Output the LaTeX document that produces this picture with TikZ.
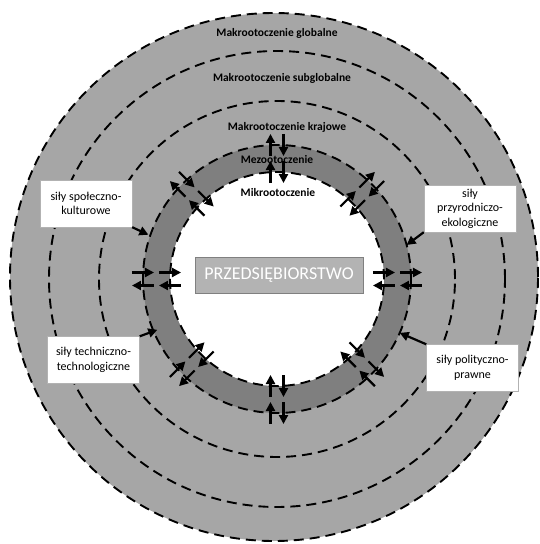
\documentclass[tikz,border=0pt]{standalone}
\usepackage{fontspec}
\setmainfont{Carlito}
\usetikzlibrary{arrows.meta}
\definecolor{szary}{RGB}{166,166,166}
\definecolor{ciemny}{RGB}{127,127,127}

\begin{document}
\begin{tikzpicture}[x=1pt, y=1pt,
        okrag/.style={dash pattern=on 10pt off 6pt, line width=1.9pt},
        strz/.style={line width=2.2pt, -{Triangle[length=9pt, width=9pt]}},
        sila/.style={draw=gray!60, fill=white, align=center, minimum width=92pt, minimum height=47pt, inner sep=2pt, font=\fontsize{12}{14.5}\selectfont},
        poziom/.style={font=\fontsize{11.5}{14}\selectfont\bfseries}]
        \useasboundingbox (-277, -265) rectangle (262, 279);
        \draw [okrag, fill=szary] (-3, 2) circle (264);
        \draw [okrag] (0, 0) circle (228) (0, 0) circle (178);
        \draw [okrag, fill=ciemny] (0, 0) circle (134);
        \draw [okrag, fill=white] (0, 0) circle (107);
        \foreach \a in {0, 45, ..., 315}
            \foreach \ri/\ro in {96/118, 123/145} {
                \draw [strz, rotate=\a] (\ri, 6.5)--(\ro, 6.5);
                \draw [strz, rotate=\a] (\ro, -6.5)--(\ri, -6.5);
            }
        \node [poziom] (glob) at (0, 246) {Makrootoczenie globalne};
        \node [poziom] (subglob) at (5, 201) {Makrootoczenie subglobalne};
        \node [poziom] (kraj) at (10, 152) {Makrootoczenie krajowe};
        \node [poziom] (mezo) at (0, 119) {Mezootoczenie};
        \node [poziom] (mikro) at (1, 86) {Mikrootoczenie};
        \node [draw=gray, fill=szary!85, text=white, minimum width=168pt, minimum height=36pt, font=\fontsize{18}{20}\selectfont] (firma) at (2, 4) {PRZEDSIĘBIORSTWO};
        \node [sila] (spol) at (-191, 75.5) {siły społeczno-\\kulturowe};
        \node [sila] (przyr) at (193, 70.5) {siły\\przyrodniczo-\\ekologiczne};
        \node [sila] (tech) at (-183.5, -81) {siły techniczno-\\technologiczne};
        \node [sila] (polit) at (195.5, -89) {siły polityczno-\\prawne};
        \coordinate (kSpol) at (161:136);
        \coordinate (kPrzyr) at (14.7:134);
        \coordinate (kTech) at (203:130);
        \coordinate (kPolit) at (-23.7:134);
        \draw [strz] (spol.south east)--(kSpol);
        \draw [strz] (przyr.south west)--(kPrzyr);
        \draw [strz] (tech.north east)--(kTech);
        \draw [strz] (polit.north west)--(kPolit);
    \end{tikzpicture}
\end{document}
